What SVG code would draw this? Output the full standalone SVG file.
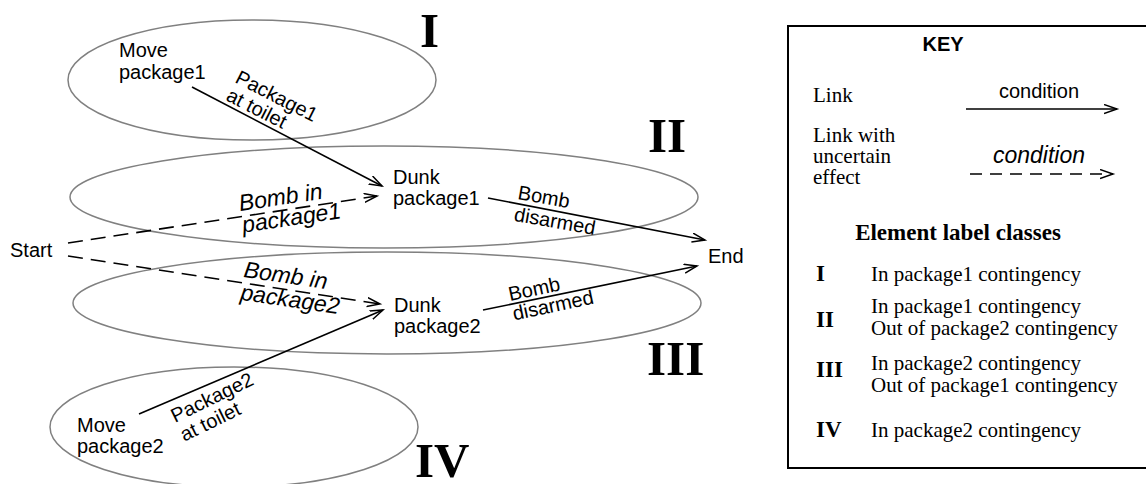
<svg xmlns="http://www.w3.org/2000/svg" width="1146" height="484" viewBox="0 0 1146 484">
<style>
.ell{fill:none;stroke:#808080;stroke-width:1.5}
.lk{fill:none;stroke:#000;stroke-width:1.6;marker-end:url(#ah)}
.dl{stroke-dasharray:15 8}
.sans{font-family:"Liberation Sans",Arial,sans-serif;font-size:20px;fill:#000}
.it{font-family:"Liberation Sans",Arial,sans-serif;font-style:italic;font-size:23px;fill:#000}
.rom{font-family:"Liberation Serif","Times New Roman",serif;font-weight:bold;font-size:49px;fill:#000}
.ser{font-family:"Liberation Serif","Times New Roman",serif;font-size:21px;fill:#000}
.serb{font-family:"Liberation Serif","Times New Roman",serif;font-weight:bold;font-size:23px;fill:#000}
</style>
<defs>
<marker id="ah" markerUnits="userSpaceOnUse" markerWidth="16" markerHeight="12" refX="13" refY="5" orient="auto">
<path d="M0,0.5 L13,5 L0,9.5" fill="none" stroke="#000" stroke-width="1.5"/>
</marker>
</defs>
<rect width="1146" height="484" fill="#fff"/>

<g id="regions">
<ellipse class="ell" cx="252" cy="80" rx="184" ry="60"/>
<ellipse class="ell" cx="384" cy="197" rx="314" ry="51"/>
<ellipse class="ell" cx="387" cy="303" rx="314" ry="51"/>
<ellipse class="ell" cx="234" cy="427" rx="184" ry="60"/>
<text class="rom" x="420" y="47">I</text>
<text class="rom" x="648" y="152">II</text>
<text class="rom" x="647" y="375">III</text>
<text class="rom" x="415" y="477">IV</text>
</g>

<g id="connectors">
<line class="lk" x1="192" y1="87" x2="382" y2="186"/>
<line class="lk dl" x1="68" y1="243" x2="377" y2="196"/>
<line class="lk" x1="488" y1="198" x2="705" y2="240"/>
<line class="lk dl" x1="68" y1="256" x2="380" y2="304"/>
<line class="lk" x1="139" y1="414" x2="383" y2="310"/>
<line class="lk" x1="483" y1="310" x2="697" y2="266"/>
<text class="sans" transform="translate(234,82) rotate(27)"><tspan x="0" y="0">Package1</tspan><tspan x="0" y="20">at toilet</tspan></text>
<text class="it" transform="translate(240,211) rotate(-8.5)"><tspan x="0" y="0">Bomb in</tspan><tspan x="0" y="22">package1</tspan></text>
<text class="sans" transform="translate(517,199) rotate(10)"><tspan x="0" y="0">Bomb</tspan><tspan x="0" y="22">disarmed</tspan></text>
<text class="it" transform="translate(243,277) rotate(8.3)"><tspan x="0" y="0">Bomb in</tspan><tspan x="0" y="23">package2</tspan></text>
<text class="sans" transform="translate(175,423) rotate(-26)"><tspan x="0" y="0">Package2</tspan><tspan x="0" y="21">at toilet</tspan></text>
<text class="sans" transform="translate(510,301) rotate(-12)"><tspan x="0" y="0">Bomb</tspan><tspan x="0" y="20">disarmed</tspan></text>
</g>

<g id="move-package1"><text class="sans" x="119" y="57">Move<tspan x="119" y="79">package1</tspan></text></g>
<g id="dunk-package1"><text class="sans" x="393" y="184">Dunk<tspan x="393" y="205">package1</tspan></text></g>
<g id="start"><text class="sans" x="10" y="257">Start</text></g>
<g id="end"><text class="sans" x="708" y="263">End</text></g>
<g id="dunk-package2"><text class="sans" x="394" y="312">Dunk<tspan x="394" y="333">package2</tspan></text></g>
<g id="move-package2"><text class="sans" x="77" y="432">Move<tspan x="77" y="453">package2</tspan></text></g>

<g id="key">
<rect x="788" y="26" width="400" height="442" fill="none" stroke="#000" stroke-width="2"/>
<text class="sans" x="943" y="51" text-anchor="middle" font-weight="bold" font-size="22">KEY</text>
<text class="ser" x="813" y="102">Link</text>
<text class="sans" x="999" y="98">condition</text>
<line class="lk" x1="966" y1="109" x2="1117" y2="109"/>
<text class="ser" x="813" y="142">Link with<tspan x="813" y="163">uncertain</tspan><tspan x="813" y="184">effect</tspan></text>
<text class="it" x="993" y="163" font-size="24">condition</text>
<line class="lk" x1="970" y1="174" x2="1113" y2="174" stroke-dasharray="12 8"/>
<text class="serb" x="958" y="240" text-anchor="middle" font-size="24">Element label classes</text>
<text class="serb" x="816" y="281">I</text>
<text class="ser" x="871" y="281">In package1 contingency</text>
<text class="serb" x="816" y="327">II</text>
<text class="ser" x="871" y="313">In package1 contingency<tspan x="871" y="335">Out of package2 contingency</tspan></text>
<text class="serb" x="816" y="377">III</text>
<text class="ser" x="871" y="370">In package2 contingency<tspan x="871" y="392">Out of package1 contingency</tspan></text>
<text class="serb" x="816" y="437">IV</text>
<text class="ser" x="871" y="437">In package2 contingency</text>
</g>
</svg>
